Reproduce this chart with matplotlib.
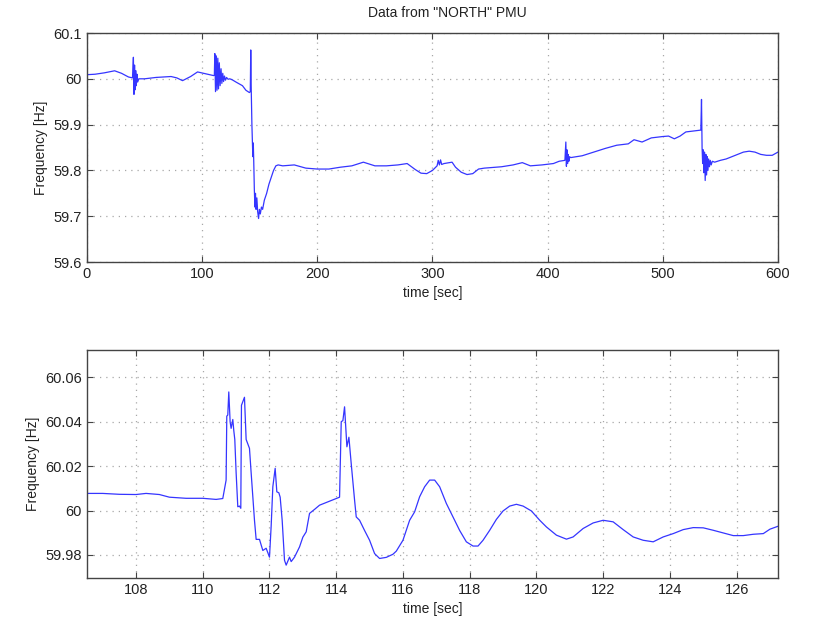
#!/usr/bin/env python3
"""
Frequency traces recorded by the "NORTH" PMU.
Top: full 10-minute record. Bottom: zoom on the 106-127 s disturbance.
Output: out.png
"""

import matplotlib
matplotlib.use("Agg")
import matplotlib.pyplot as plt

# ---------- data, (time [s], frequency [Hz]) ----------
top_pts = [
    (0, 60.009), (7, 60.010), (15, 60.013), (24, 60.0175), (30, 60.012), (36, 60.004),
    (39.5, 60.002), (40.3, 60.047), (40.8, 59.966), (41.3, 60.030), (41.8, 59.976),
    (42.3, 60.018), (42.8, 59.985), (43.4, 60.010), (44.0, 59.993), (45.0, 60.000),
    (50, 60.000), (60, 60.003), (73, 60.005), (78, 60.002), (83, 59.996), (90, 60.005),
    (96, 60.015), (105, 60.010), (110, 60.007), (110.6, 60.008), (111.0, 60.055),
    (111.6, 59.972), (112.3, 60.050), (112.9, 59.975), (113.6, 60.045), (114.2, 59.978),
    (114.9, 60.035), (115.6, 59.985), (116.4, 60.022), (117.1, 59.990), (117.9, 60.012),
    (118.6, 59.994), (119.4, 60.006), (120.2, 59.997), (121.2, 60.003), (122.5, 59.999),
    (124, 60.000), (126, 59.998), (130, 59.992), (135, 59.985), (138, 59.975),
    (141, 59.970), (141.8, 59.972), (142.2, 60.063), (142.6, 59.980), (143.2, 59.900),
    (143.7, 59.860), (144.0, 59.830), (144.4, 59.860), (144.8, 59.820), (145.3, 59.760),
    (145.8, 59.720), (146.3, 59.750), (146.8, 59.715), (147.5, 59.740), (148.2, 59.710),
    (149.0, 59.695), (149.7, 59.715), (150.5, 59.705), (151.5, 59.720), (152.5, 59.715),
    (154, 59.735), (156, 59.750), (158, 59.770), (160, 59.785), (162, 59.800),
    (164, 59.810), (166, 59.812), (170, 59.810), (180, 59.812), (190, 59.805),
    (200, 59.803), (210, 59.803), (220, 59.807), (230, 59.810), (240, 59.818),
    (250, 59.810), (260, 59.810), (270, 59.812), (278, 59.815), (285, 59.802),
    (290, 59.794), (295, 59.793), (300, 59.800), (304, 59.810), (305, 59.822),
    (306, 59.812), (307, 59.823), (308, 59.813), (310, 59.815), (317, 59.818),
    (320, 59.807), (325, 59.796), (330, 59.791), (335, 59.793), (340, 59.803),
    (345, 59.805), (350, 59.806), (360, 59.808), (370, 59.812), (378, 59.817),
    (385, 59.810), (395, 59.812), (405, 59.815), (410, 59.820), (415, 59.822),
    (415.8, 59.862), (416.3, 59.809), (416.8, 59.845), (417.3, 59.815), (417.8, 59.835),
    (418.4, 59.820), (419.0, 59.830), (420, 59.828), (430, 59.832), (440, 59.840),
    (450, 59.848), (460, 59.855), (470, 59.858), (475, 59.867), (482, 59.862),
    (490, 59.871), (500, 59.874), (505, 59.875), (510, 59.869), (515, 59.875),
    (520, 59.884), (530, 59.887), (533, 59.888), (533.6, 59.955), (534.1, 59.850),
    (534.6, 59.815), (535.1, 59.845), (535.6, 59.795), (536.2, 59.840), (536.8, 59.778),
    (537.4, 59.835), (538.0, 59.790), (538.6, 59.830), (539.2, 59.800), (539.8, 59.825),
    (540.5, 59.808), (541.2, 59.822), (542, 59.812), (543, 59.820), (545, 59.818),
    (550, 59.822), (555, 59.825), (560, 59.830), (570, 59.840), (575, 59.842),
    (580, 59.840), (585, 59.835), (590, 59.833), (595, 59.833), (600, 59.840),
]

zoom_pts = [
    (106.54, 60.0077), (107.0, 60.0077), (107.5, 60.0073), (108.0, 60.0072),
    (108.3, 60.0077), (108.7, 60.0072), (109.0, 60.0060), (109.5, 60.0055),
    (110.0, 60.0055), (110.4, 60.0050), (110.6, 60.0054), (110.70, 60.0137),
    (110.72, 60.0425), (110.75, 60.0430), (110.78, 60.0534), (110.82, 60.0400),
    (110.85, 60.0370), (110.90, 60.0410), (110.93, 60.0360), (110.96, 60.0320),
    (111.0, 60.0170), (111.05, 60.0017), (111.10, 60.0020), (111.14, 60.0010),
    (111.16, 60.0474), (111.25, 60.0510), (111.30, 60.0320), (111.35, 60.0300),
    (111.40, 60.0280), (111.45, 60.0170), (111.55, 59.9956), (111.60, 59.9870),
    (111.70, 59.9870), (111.80, 59.9820), (111.90, 59.9830), (112.0, 59.9790),
    (112.05, 59.9930), (112.10, 60.0107), (112.17, 60.0190), (112.22, 60.0084),
    (112.28, 60.0080), (112.32, 60.0060), (112.38, 59.9956), (112.45, 59.9776),
    (112.50, 59.9754), (112.60, 59.9790), (112.65, 59.9770), (112.75, 59.9790),
    (112.90, 59.9836), (113.0, 59.9880), (113.1, 59.9904), (113.2, 59.9987),
    (113.35, 60.0005), (113.5, 60.0024), (113.75, 60.0039), (114.0, 60.0054),
    (114.1, 60.0060), (114.15, 60.0400), (114.2, 60.0405), (114.25, 60.0467),
    (114.32, 60.0287), (114.38, 60.0330), (114.45, 60.0210), (114.55, 60.0047),
    (114.6, 59.9971), (114.7, 59.9956), (114.85, 59.9910), (115.0, 59.9866),
    (115.15, 59.9806), (115.3, 59.9784), (115.5, 59.9789), (115.7, 59.9803),
    (115.8, 59.9817), (116.0, 59.9866), (116.2, 59.9956), (116.35, 59.9994),
    (116.5, 60.0062), (116.65, 60.0107), (116.8, 60.0137), (116.95, 60.0137),
    (117.1, 60.0107), (117.3, 60.0032), (117.5, 59.9971), (117.7, 59.9910),
    (117.9, 59.9859), (118.1, 59.9840), (118.25, 59.9840), (118.4, 59.9866),
    (118.6, 59.9911), (118.8, 59.9960), (119.0, 59.9998), (119.2, 60.0020),
    (119.4, 60.0028), (119.6, 60.0020), (119.85, 59.9998), (120.1, 59.9956),
    (120.3, 59.9926), (120.6, 59.9889), (120.9, 59.9871), (121.1, 59.9881),
    (121.4, 59.9919), (121.7, 59.9944), (122.0, 59.9956), (122.3, 59.9949),
    (122.6, 59.9914), (122.9, 59.9881), (123.2, 59.9866), (123.5, 59.9859),
    (123.8, 59.9881), (124.1, 59.9896), (124.4, 59.9914), (124.7, 59.9923),
    (125.0, 59.9922), (125.3, 59.9911), (125.6, 59.9899), (125.9, 59.9887),
    (126.2, 59.9887), (126.5, 59.9893), (126.8, 59.9896), (127.0, 59.9916),
    (127.24, 59.9929),
]

top_xticks = [0, 100, 200, 300, 400, 500, 600]
top_yticks = [59.6, 59.7, 59.8, 59.9, 60.0, 60.1]
top_ylabels = ["59.6", "59.7", "59.8", "59.9", "60", "60.1"]
zoom_xticks = [108, 110, 112, 114, 116, 118, 120, 122, 124, 126]
zoom_yticks = [59.98, 60.0, 60.02, 60.04, 60.06]
zoom_ylabels = ["59.98", "60", "60.02", "60.04", "60.06"]

top_t, top_f = zip(*top_pts)
zoom_t, zoom_f = zip(*zoom_pts)

# ---------- style ----------
plt.rcParams["font.family"] = ["Liberation Sans", "DejaVu Sans"]
LINE = "#3535ff"
TXT = "#222222"
GRID = dict(color="#a8a8a8", linestyle=(0, (1, 4)), linewidth=0.9)


def matlab_axes(ax):
    ax.tick_params(direction="in", top=True, right=True, length=4,
                   labelsize=10.5, color="#444444", labelcolor=TXT)
    for s in ax.spines.values():
        s.set_color("#444444")
        s.set_linewidth(1.0)
    ax.grid(True, **GRID)
    ax.set_axisbelow(True)


fig = plt.figure(figsize=(8.16, 6.18), dpi=100)

# ---------- top: full record ----------
ax1 = fig.add_axes([0.1066, 0.576, 0.8468, 0.3706])
ax1.plot(top_t, top_f, color=LINE, linewidth=0.9)
ax1.set_xlim(0, 600)
ax1.set_ylim(59.6, 60.1)
ax1.set_xticks(top_xticks)
ax1.set_yticks(top_yticks)
ax1.set_yticklabels(top_ylabels)
ax1.set_xlabel("time [sec]", fontsize=10, labelpad=4, color=TXT)
ax1.set_ylabel("Frequency [Hz]", fontsize=10, labelpad=4, color=TXT)
matlab_axes(ax1)
fig.text(447 / 816, 1 - 13 / 618, 'Data from "NORTH" PMU', ha="center", va="center",
         fontsize=10, color=TXT)

# ---------- bottom: zoom on the event ----------
ax2 = fig.add_axes([0.1066, 0.0647, 0.8468, 0.369])
ax2.plot(zoom_t, zoom_f, color=LINE, linewidth=0.9)
ax2.set_xlim(106.53, 127.24)
ax2.set_ylim(59.9696, 60.0723)
ax2.set_xticks(zoom_xticks)
ax2.set_yticks(zoom_yticks)
ax2.set_yticklabels(zoom_ylabels)
ax2.set_xlabel("time [sec]", fontsize=10, labelpad=4, color=TXT)
ax2.set_ylabel("Frequency [Hz]", fontsize=10, labelpad=4, color=TXT)
matlab_axes(ax2)

fig.savefig("out.png", dpi=100)
